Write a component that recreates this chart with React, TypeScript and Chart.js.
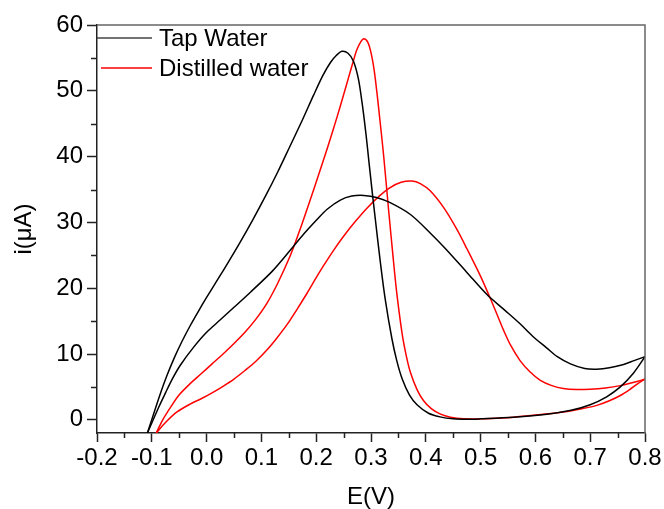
import React, { useEffect, useRef } from 'react';
import { Chart, registerables } from 'chart.js';

Chart.register(...registerables);

// ---- Data ----
const seriesLabels = ['Tap Water', 'Distilled water'];
const seriesColors = ['#000000', '#ff0000'];

// Tap water: anodic (forward) sweep
const tapFwdE = [-0.108, -0.097, -0.086, -0.072, -0.058, -0.045, -0.030, -0.015, 0.0, 0.020, 0.040, 0.060, 0.085, 0.110, 0.130, 0.150, 0.175, 0.195, 0.212, 0.226, 0.237, 0.247, 0.258, 0.268, 0.277, 0.284, 0.291, 0.296, 0.302, 0.308, 0.317, 0.326, 0.338, 0.347, 0.357, 0.370, 0.384, 0.405, 0.426, 0.450, 0.475, 0.500, 0.560, 0.621, 0.665, 0.700, 0.730, 0.755, 0.778, 0.800];
const tapFwdI = [-2.0, 0.8, 3.6, 6.8, 9.6, 11.9, 14.3, 16.5, 18.6, 21.3, 24.0, 26.8, 30.5, 34.4, 37.7, 41.2, 45.6, 49.3, 52.3, 54.3, 55.4, 56.0, 55.7, 54.5, 51.8, 48.0, 43.3, 39.4, 34.8, 30.4, 24.0, 18.3, 12.4, 9.0, 6.2, 3.8, 2.3, 1.0, 0.45, 0.15, 0.08, 0.15, 0.40, 0.85, 1.45, 2.3, 3.5, 5.0, 7.0, 9.6];

// Tap water: reverse sweep
const tapRevE = [0.800, 0.780, 0.761, 0.735, 0.712, 0.690, 0.664, 0.640, 0.621, 0.595, 0.572, 0.545, 0.512, 0.475, 0.436, 0.408, 0.372, 0.335, 0.310, 0.287, 0.265, 0.244, 0.220, 0.201, 0.178, 0.153, 0.120, 0.080, 0.050, 0.025, 0.0, -0.025, -0.048, -0.062, -0.075, -0.088, -0.098, -0.108];
const tapRevI = [9.6, 9.0, 8.4, 7.9, 7.7, 7.8, 8.5, 9.6, 10.9, 12.7, 14.6, 16.6, 19.0, 22.4, 26.0, 28.4, 31.2, 33.0, 33.8, 34.1, 34.0, 33.4, 32.0, 30.4, 28.3, 25.8, 22.6, 19.4, 17.1, 15.2, 13.3, 10.9, 8.3, 6.3, 4.1, 1.8, -0.1, -2.0];

// Distilled water: anodic (forward) sweep
const disFwdE = [-0.092, -0.080, -0.065, -0.050, -0.030, -0.010, 0.010, 0.030, 0.050, 0.070, 0.090, 0.110, 0.130, 0.153, 0.170, 0.189, 0.205, 0.220, 0.238, 0.250, 0.259, 0.267, 0.274, 0.281, 0.287, 0.294, 0.300, 0.306, 0.311, 0.317, 0.323, 0.332, 0.340, 0.347, 0.357, 0.365, 0.372, 0.384, 0.396, 0.410, 0.426, 0.445, 0.469, 0.500, 0.530, 0.560, 0.610, 0.651, 0.685, 0.712, 0.735, 0.755, 0.772, 0.785, 0.800];
const disFwdI = [-2.0, 0.0, 2.0, 3.8, 5.5, 7.0, 8.5, 10.0, 11.6, 13.3, 15.3, 17.7, 20.8, 25.0, 28.8, 33.4, 37.4, 41.2, 46.0, 49.4, 52.0, 54.3, 56.2, 57.4, 57.9, 57.4, 55.8, 53.0, 49.6, 45.0, 40.2, 32.0, 25.0, 19.3, 13.0, 9.5, 7.2, 4.6, 2.9, 1.7, 0.9, 0.4, 0.15, 0.15, 0.25, 0.4, 0.8, 1.2, 1.7, 2.2, 2.9, 3.7, 4.6, 5.4, 6.2];

// Distilled water: reverse sweep
const disRevE = [0.800, 0.780, 0.755, 0.728, 0.700, 0.675, 0.651, 0.630, 0.609, 0.590, 0.572, 0.555, 0.542, 0.530, 0.518, 0.500, 0.475, 0.457, 0.433, 0.408, 0.390, 0.375, 0.355, 0.335, 0.315, 0.293, 0.272, 0.250, 0.232, 0.214, 0.200, 0.183, 0.165, 0.147, 0.128, 0.110, 0.090, 0.070, 0.050, 0.030, 0.010, -0.010, -0.030, -0.054, -0.075, -0.092];
const disRevI = [6.2, 5.7, 5.2, 4.85, 4.65, 4.6, 4.75, 5.2, 6.0, 7.3, 9.0, 11.3, 13.6, 16.0, 18.4, 21.8, 26.0, 28.9, 32.2, 34.8, 35.9, 36.3, 36.1, 35.3, 34.0, 32.2, 30.2, 27.9, 25.8, 23.5, 21.6, 19.2, 16.8, 14.5, 12.4, 10.6, 8.9, 7.5, 6.2, 5.1, 4.1, 3.2, 2.4, 1.2, -0.4, -2.0];

// Axes
const xMajorTicks = [-0.2, -0.1, 0.0, 0.1, 0.2, 0.3, 0.4, 0.5, 0.6, 0.7, 0.8];
const xMinorTicks = [-0.15, -0.05, 0.05, 0.15, 0.25, 0.35, 0.45, 0.55, 0.65, 0.75];
const yMajorTicks = [0, 10, 20, 30, 40, 50, 60];
const yMinorTicks = [5, 15, 25, 35, 45, 55];
const xTitle = 'E(V)';
const yTitle = 'i(μA)';

const pts = (xs: number[], ys: number[]) => xs.map((x, i) => ({ x, y: ys[i] }));

const FONT = "'Liberation Sans', Arial, sans-serif";
const AXIS_COLOR = '#222222';

const decorPlugin = {
  id: 'decor',
  afterDraw(chart: any) {
    const { ctx, chartArea, scales } = chart;
    const { left, right, top, bottom } = chartArea;
    const xs = scales.x;
    const ys = scales.y;
    ctx.save();
    // top & right frame
    ctx.strokeStyle = '#666666';
    ctx.lineWidth = 1.5;
    ctx.beginPath();
    ctx.moveTo(left, top);
    ctx.lineTo(right, top);
    ctx.lineTo(right, bottom);
    ctx.stroke();
    // minor ticks
    ctx.strokeStyle = AXIS_COLOR;
    ctx.lineWidth = 1.5;
    ctx.beginPath();
    xMinorTicks.forEach((v) => {
      const px = Math.round(xs.getPixelForValue(v)) + 0.5;
      ctx.moveTo(px, bottom);
      ctx.lineTo(px, bottom + 5);
    });
    yMinorTicks.forEach((v) => {
      const py = Math.round(ys.getPixelForValue(v)) + 0.5;
      ctx.moveTo(left, py);
      ctx.lineTo(left - 6, py);
    });
    ctx.stroke();
    // legend inside plot
    ctx.font = `24px ${FONT}`;
    ctx.textBaseline = 'middle';
    ctx.textAlign = 'left';
    seriesLabels.forEach((label, i) => {
      const y = top + 13 + i * 30;
      ctx.strokeStyle = i === 0 ? '#444444' : seriesColors[i];
      ctx.lineWidth = 1.5;
      ctx.beginPath();
      ctx.moveTo(left + (i === 0 ? 0 : 4), y);
      ctx.lineTo(left + 55, y);
      ctx.stroke();
      ctx.fillStyle = '#000000';
      ctx.fillText(label, left + 62, y + 1);
    });
    ctx.restore();
  },
};

export default function App() {
  const ref = useRef<HTMLCanvasElement | null>(null);
  useEffect(() => {
    if (!ref.current) return;
    const mk = (label: string, xs: number[], ys: number[], color: string) => ({
      label,
      data: pts(xs, ys),
      borderColor: color,
      backgroundColor: color,
      borderWidth: 1.5,
      pointRadius: 0,
      showLine: true,
      fill: false,
      tension: 0.3,
    });
    const chart = new Chart(ref.current, {
      type: 'scatter',
      data: {
        datasets: [
          mk(seriesLabels[0], tapFwdE, tapFwdI, seriesColors[0]),
          mk(seriesLabels[0] + ' (reverse)', tapRevE, tapRevI, seriesColors[0]),
          mk(seriesLabels[1], disFwdE, disFwdI, seriesColors[1]),
          mk(seriesLabels[1] + ' (reverse)', disRevE, disRevI, seriesColors[1]),
        ],
      },
      options: {
        animation: false,
        responsive: true,
        maintainAspectRatio: false,
        layout: { padding: { left: 0, top: 25, right: 19, bottom: 0 } },
        plugins: { legend: { display: false }, tooltip: { enabled: false } },
        scales: {
          x: {
            type: 'linear',
            min: -0.2,
            max: 0.8,
            afterBuildTicks: (s: any) => {
              s.ticks = xMajorTicks.map((v) => ({ value: v }));
            },
            afterFit: (s: any) => {
              s.height = 76;
            },
            ticks: {
              color: '#000000',
              font: { family: FONT, size: 24 },
              padding: 2,
              maxRotation: 0,
              autoSkip: false,
              callback: (v: any) => Number(v).toFixed(1),
            },
            grid: {
              drawOnChartArea: false,
              drawTicks: true,
              tickLength: 9,
              tickWidth: 1.5,
              tickColor: AXIS_COLOR,
            },
            border: { color: AXIS_COLOR, width: 1.5 },
            title: {
              display: true,
              text: xTitle,
              color: '#000000',
              font: { family: FONT, size: 24, lineHeight: 1 },
              padding: { top: 0, bottom: 0 },
            },
          },
          y: {
            type: 'linear',
            min: -2,
            max: 60,
            afterBuildTicks: (s: any) => {
              s.ticks = yMajorTicks.map((v) => ({ value: v }));
            },
            afterFit: (s: any) => {
              s.width = 97;
            },
            ticks: {
              color: '#000000',
              font: { family: FONT, size: 24 },
              padding: 4,
              autoSkip: false,
              callback: (v: any) => String(v),
            },
            grid: {
              drawOnChartArea: false,
              drawTicks: true,
              tickLength: 10,
              tickWidth: 1.5,
              tickColor: AXIS_COLOR,
            },
            border: { color: AXIS_COLOR, width: 1.5 },
            title: {
              display: true,
              text: yTitle,
              color: '#000000',
              font: { family: FONT, size: 24, lineHeight: 1 },
              padding: { top: 12, bottom: 0 },
            },
          },
        },
      },
      plugins: [decorPlugin],
    });
    return () => chart.destroy();
  }, []);
  return (
    <div style={{ position: 'fixed', left: 0, top: 0, width: 664, height: 509, background: '#ffffff' }}>
      <canvas ref={ref} />
    </div>
  );
}
